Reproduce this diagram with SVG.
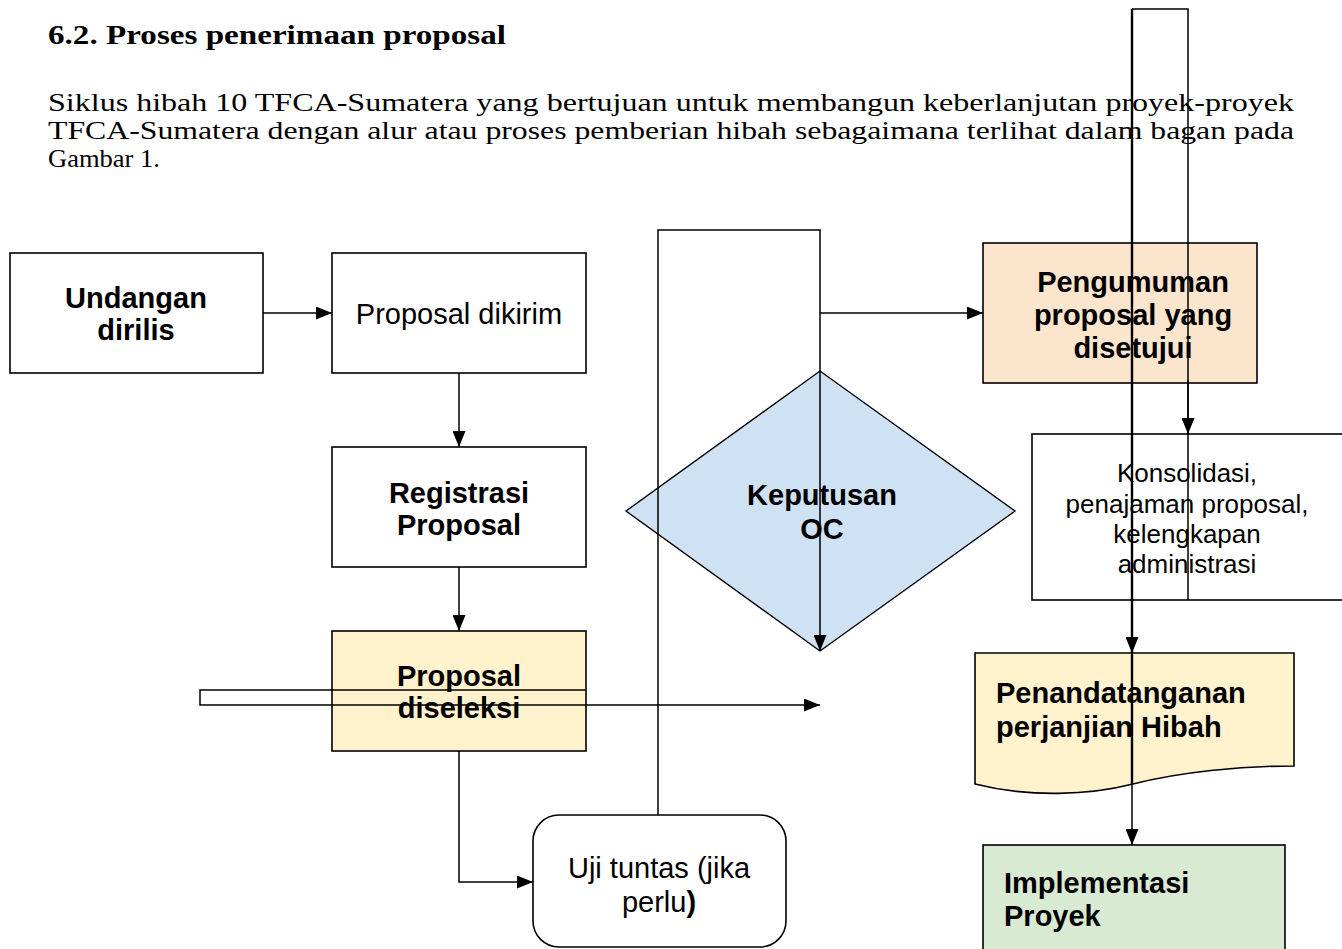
<svg xmlns="http://www.w3.org/2000/svg" width="1342" height="949" viewBox="0 0 1342 949">
<defs>
<marker id="arr" markerUnits="userSpaceOnUse" markerWidth="16" markerHeight="13" refX="16" refY="6.5" orient="auto"><path d="M0,0 L16,6.5 L0,13 z" fill="#000"/></marker>
</defs>
<style>
.box{stroke:#000;stroke-width:1.6}
.t{font-family:"Liberation Sans",Arial,sans-serif;font-size:29px;fill:#000;text-anchor:middle}
.l{text-anchor:start}
.b{font-weight:bold}
.c{fill:none;stroke:#000;stroke-width:1.5}
.p{font-family:"Liberation Serif","Times New Roman",serif;font-size:25.5px;fill:#000}
</style>
<rect width="1342" height="949" fill="#fff"/>
<g id="heading">
<text x="48" y="44" class="p" style="font-size:27px" font-weight="bold" textLength="458" lengthAdjust="spacingAndGlyphs">6.2. Proses penerimaan proposal</text>
<text x="48" y="111" class="p" textLength="1246" lengthAdjust="spacingAndGlyphs">Siklus hibah 10 TFCA-Sumatera yang bertujuan untuk membangun keberlanjutan proyek-proyek</text>
<text x="48" y="139" class="p" textLength="1246" lengthAdjust="spacingAndGlyphs">TFCA-Sumatera dengan alur atau proses pemberian hibah sebagaimana terlihat dalam bagan pada</text>
<text x="48" y="167" class="p" textLength="112" lengthAdjust="spacingAndGlyphs">Gambar 1.</text>
</g>
<g id="undangan">
<rect x="10" y="253" width="253" height="120" fill="#fff" class="box"/>
<text class="t b" x="136" y="308">Undangan</text>
<text class="t b" x="136" y="340">dirilis</text>
</g>
<g id="dikirim">
<rect x="332" y="253" width="254" height="120" fill="#fff" class="box"/>
<text class="t" x="459" y="324">Proposal dikirim</text>
</g>
<g id="registrasi">
<rect x="332" y="447" width="254" height="120" fill="#fff" class="box"/>
<text class="t b" x="459" y="503">Registrasi</text>
<text class="t b" x="459" y="535">Proposal</text>
</g>
<g id="diseleksi">
<rect x="332" y="631" width="254" height="120" fill="#fff2cc" class="box"/>
<text class="t b" x="459" y="686">Proposal</text>
<text class="t b" x="459" y="718">diseleksi</text>
</g>
<g id="ujituntas">
<rect x="533" y="815" width="253" height="132" rx="26" fill="#fff" class="box"/>
<text class="t" x="659" y="878">Uji tuntas (jika</text>
<text class="t" x="659" y="912">perlu<tspan class="b">)</tspan></text>
</g>
<g id="keputusan">
<polygon points="626,511 820,371 1015,511 820,651" fill="#cfe2f3" stroke="#000" stroke-width="1.4"/>
<text class="t b" x="822" y="505">Keputusan</text>
<text class="t b" x="822" y="539">OC</text>
</g>
<g id="pengumuman">
<rect x="983" y="243" width="274" height="140" fill="#fce5cd" class="box"/>
<text class="t b" x="1133" y="292">Pengumuman</text>
<text class="t b" x="1133" y="325">proposal yang</text>
<text class="t b" x="1133" y="358">disetujui</text>
</g>
<g id="konsolidasi">
<rect x="1032" y="434" width="312" height="166" fill="#fff" class="box"/>
<text class="t" style="font-size:26px" x="1187" y="482">Konsolidasi,</text>
<text class="t" style="font-size:26px" x="1187" y="513">penajaman proposal,</text>
<text class="t" style="font-size:26px" x="1187" y="543">kelengkapan</text>
<text class="t" style="font-size:26px" x="1187" y="573">administrasi</text>
</g>
<g id="penandatanganan">
<path d="M975,653 H1294 V766 C1240,766 1180,772 1133,784 C1090,795 1030,798 975,784 Z" fill="#fff2cc" class="box"/>
<text class="t b l" x="996" y="703">Penandatanganan</text>
<text class="t b l" x="996" y="737">perjanjian Hibah</text>
</g>
<g id="implementasi">
<rect x="983" y="845" width="302" height="120" fill="#d9ead3" class="box"/>
<text class="t b l" x="1004" y="893">Implementasi</text>
<text class="t b l" x="1004" y="926">Proyek</text>
</g>
<g id="connectors">
<path class="c" d="M263,313 H332" marker-end="url(#arr)"/>
<path class="c" d="M459,373 V447" marker-end="url(#arr)"/>
<path class="c" d="M459,567 V631" marker-end="url(#arr)"/>
<path class="c" d="M459,751 V882 H533" marker-end="url(#arr)"/>
<path class="c" d="M658,815 V230 H820 V651" marker-end="url(#arr)"/>
<path class="c" d="M820,313 H983" marker-end="url(#arr)"/>
<path class="c" d="M586,690 H200 V705 H820" marker-end="url(#arr)"/>
<path class="c" d="M1188,600 V9 H1132"/>
<path class="c" d="M1188,380 V434" marker-end="url(#arr)"/>
<path class="c" style="stroke-width:2.4" d="M1132,9 V653" marker-end="url(#arr)"/>
<path class="c" style="stroke-width:2.4" d="M1132,653 V784"/>
<path class="c" d="M1132,784 V845" marker-end="url(#arr)"/>
</g>
</svg>
